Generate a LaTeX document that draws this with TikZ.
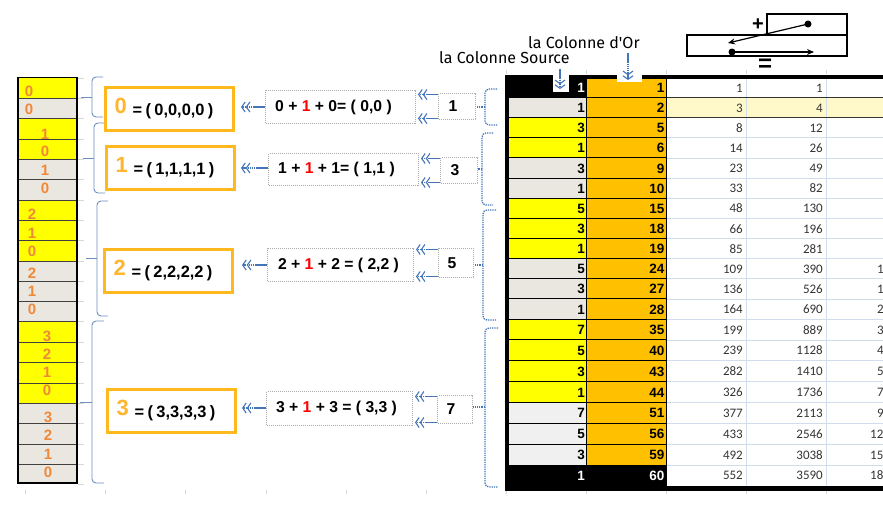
\documentclass[tikz,border=0pt]{standalone}
\usepackage{fontspec}
\setmainfont{Liberation Sans}
\newfontfamily\calib{Carlito}
\newfontfamily\comic{Fira Sans}
\usetikzlibrary{arrows.meta,calc}
\newcommand\pxfont[1]{\fontsize{#1}{#1}\selectfont}
\newcommand\padright[1]{\rule{#1}{0pt}}
\definecolor{orbox}{HTML}{FFB91E}
\definecolor{ordigit}{HTML}{FFB52E}
\definecolor{srcdigit}{HTML}{F0883A}
\definecolor{bluearr}{HTML}{4475B8}
\definecolor{bracel}{HTML}{6D8FC0}
\definecolor{yellowc}{HTML}{FFFF00}
\definecolor{greyc}{HTML}{E9E7DF}
\definecolor{greyd}{HTML}{F0F0F0}
\definecolor{goldc}{HTML}{FFC000}
\definecolor{paley}{HTML}{FFF9C9}
\definecolor{gridc}{HTML}{D3DCEA}
\definecolor{tickc}{HTML}{D8D8D8}
\tikzset{
  orangebox/.style={draw=orbox,line width=3pt,fill=white,inner sep=0pt,anchor=north west,minimum height=#1,text width=128pt,align=left},
  midbox/.style={draw=gray!65,densely dotted,line width=1pt,fill=white,inner sep=0pt,anchor=north west,font=\pxfont{15.7}\bfseries},
  numbox/.style={midbox},
  flowarrow/.style={draw=bluearr,line width=1.2pt,dash pattern=on 1.6pt off 0.5pt,-{Straight Barb[length=3.5pt,width=10pt,line width=1.1pt]Straight Barb[length=3.5pt,width=10pt,line width=1.1pt]}},
  leftbrace/.style={draw=bracel,line width=0.9pt,rounded corners=4pt},
  rightbrace/.style={draw=bluearr,line width=1.3pt,densely dotted,rounded corners=4pt},
  srclabel/.style={text=srcdigit,font=\pxfont{15}\bfseries,inner sep=0pt},
  goldnum/.style={font=\pxfont{13.5}\bfseries,inner sep=0pt,anchor=east},
  datanum/.style={font=\calib\pxfont{13},text=black!80,inner sep=0pt,anchor=east},
  cliplabel/.style={font=\calib\pxfont{13},text=black!80,inner sep=0pt,anchor=west},
  coltitle/.style={font=\comic\pxfont{16},inner sep=0pt,anchor=west},
  tick/.style={draw=tickc,line width=0.6pt},
  mini/.style={draw=black,line width=1.2pt},
  miniarrow/.style={draw=black,line width=1.2pt,-{Stealth[length=7pt,width=6pt]}}
}
\begin{document}
\begin{tikzpicture}[x=1pt,y=-1pt]
\useasboundingbox (0,0) rectangle (883,515);
% ---------- left column
\foreach \t/\b/\col in {77.5/98/yellowc,98/118/greyc,118/139/yellowc,139/159/yellowc,159/179/greyc,179/200/greyc,200/220/yellowc,220/240/yellowc,240/261/yellowc,261/281/greyc,281/301/greyc,301/321/greyc,321/342/yellowc,342/362/yellowc,362/383/yellowc,383/403/yellowc,403/423/greyc,423/444/greyc,444/464/greyc,464/483/greyc}
  \fill[\col] (18,\t) rectangle (77,\b);
\foreach \y in {98,118,139,159,179,200,220,240,261,281,301,321,342,362,383,403,423,444,464}
  \draw[black!75,line width=0.9pt] (18,\y) -- (77,\y);
\draw[black,line width=1.2pt] (18,77.5) rectangle (77,483);
\foreach \y in {78,98,118,139,159,179,200,220,240,261,281,301,321,342,362,383,403,423,444,464,484}
  \draw[tick] (78,\y) -- (84,\y);
\foreach \i/\x/\y/\v in {1/29/91/0,2/29/109/0,3/45/134/1,4/45/151/0,5/45/170/1,6/45/188/0,7/32/214/2,8/32/233/1,9/32/251/0,10/32/273/2,11/32/291/1,12/32/309/0,13/47/336/3,14/47/354/2,15/47/372/1,16/47/390/0,17/48/417/3,18/48/435/2,19/48/454/1,20/48/472/0}
  \node[srclabel] (src\i) at (\x,\y) {\v};
% ---------- ticks under the drawing
\foreach \x in {25,105,185,266,346,426,506,586,666,746,826}
  \draw[tick] (\x,490) -- (\x,494);
\foreach \x in {506,586,666,746,826}
  \draw[tick] (\x,70) -- (\x,74);
% ---------- left braces
\draw[leftbrace] (103,77) -- (92,77) -- (92,117) -- (103,117);
\draw[leftbrace,rounded corners=0pt] (92,97) -- (81,97);
\draw[leftbrace] (105,123) -- (94,123) -- (94,193) -- (105,193);
\draw[leftbrace,rounded corners=0pt] (94,158) -- (83,158);
\draw[leftbrace] (108,201) -- (97,201) -- (97,316) -- (108,316);
\draw[leftbrace,rounded corners=0pt] (97,258) -- (86,258);
\draw[leftbrace] (104,321) -- (92,321) -- (92,483) -- (104,483);
\draw[leftbrace,rounded corners=0pt] (92,402) -- (80,402);
% ---------- orange boxes
\node[orangebox=43pt] (ob0) at (104,86) {\hspace*{9pt}\raisebox{2pt}{\pxfont{22}\bfseries\color{ordigit}0}\hspace{6pt}{\pxfont{16.4}\bfseries = ( 0,0,0,0 )}};
\node[orangebox=43pt] (ob1) at (105,145) {\hspace*{9pt}\raisebox{2pt}{\pxfont{22}\bfseries\color{ordigit}1}\hspace{6pt}{\pxfont{16.4}\bfseries = ( 1,1,1,1 )}};
\node[orangebox=43pt] (ob2) at (103,248) {\hspace*{9pt}\raisebox{2pt}{\pxfont{22}\bfseries\color{ordigit}2}\hspace{6pt}{\pxfont{16.4}\bfseries = ( 2,2,2,2 )}};
\node[orangebox=43pt] (ob3) at (106,388) {\hspace*{9pt}\raisebox{2pt}{\pxfont{22}\bfseries\color{ordigit}3}\hspace{6pt}{\pxfont{16.4}\bfseries = ( 3,3,3,3 )}};
% ---------- middle boxes
\node[midbox,minimum width=150pt,minimum height=33pt] (mid0) at (265,90) {\raisebox{2pt}{0 + \textcolor{red}{1} + 0= ( 0,0 )}\padright{14pt}};
\node[midbox,minimum width=150pt,minimum height=32pt] (mid1) at (268,153) {\raisebox{2pt}{1 + \textcolor{red}{1} + 1= ( 1,1 )}\padright{14pt}};
\node[midbox,minimum width=146pt,minimum height=33pt] (mid2) at (267,248) {\raisebox{2pt}{2 + \textcolor{red}{1} + 2 = ( 2,2 )}\padright{4pt}};
\node[midbox,minimum width=146pt,minimum height=34pt] (mid3) at (266,391) {\raisebox{2pt}{3 + \textcolor{red}{1} + 3 = ( 3,3 )}\padright{6pt}};
% ---------- number boxes
\node[numbox,minimum width=37pt,minimum height=26pt] (num0) at (438,93) {1\padright{8pt}};
\node[numbox,minimum width=37pt,minimum height=26pt] (num1) at (440,157) {3\padright{8pt}};
\node[numbox,minimum width=35pt,minimum height=29pt] (num2) at (438,248) {5\padright{8pt}};
\node[numbox,minimum width=35pt,minimum height=28pt] (num3) at (437,395) {7\padright{8pt}};
% ---------- arrows
\foreach \n in {0,1,2,3}{
  \coordinate (upper\n) at ($(num\n.north west)+(0,1.5)$);
  \coordinate (lower\n) at ($(num\n.south west)+(0,-1.5)$);
  \draw[flowarrow] (upper\n) -- ([xshift=2pt]mid\n.east |- upper\n);
  \draw[flowarrow] (lower\n) -- ([xshift=2pt]mid\n.east |- lower\n);
}
\coordinate (in0) at (0,107);
\coordinate (in1) at (0,168);
\coordinate (in2) at (0,265);
\coordinate (in3) at (0,408);
\foreach \n/\g in {0/6,1/5,2/8,3/5}
  \draw[flowarrow] (mid\n.west |- in\n) -- ([xshift=\g pt]ob\n.east |- in\n);
% ---------- right braces
\draw[rightbrace] (497,89) -- (485,89) -- (485,125) -- (497,125);
\draw[rightbrace,rounded corners=0pt] (485,107) -- (num0.east |- 0,107);
\draw[rightbrace] (493,133) -- (482,133) -- (482,205) -- (493,205);
\draw[rightbrace,rounded corners=0pt] (482,169) -- (num1.east |- 0,169);
\draw[rightbrace] (496,210) -- (483,210) -- (483,320) -- (497,320);
\draw[rightbrace,rounded corners=0pt] (483,265) -- (num2.east |- 0,265);
\draw[rightbrace] (498,328) -- (485,328) -- (485,487) -- (498,487);
\draw[rightbrace,rounded corners=0pt] (485,407) -- (num3.east |- 0,407);
% ---------- table: cell colours
\foreach \t/\b/\col in {
 97.5/117.6/greyc,117.6/137.8/yellowc,137.8/157.9/yellowc,157.9/178.1/greyc,178.1/198.2/greyc,
 198.2/218.3/yellowc,218.3/238.5/yellowc,238.5/258.6/yellowc,258.6/278.8/greyc,278.8/298.9/greyc,298.9/319/greyc,
 319/339.9/yellowc,339.9/360.7/yellowc,360.7/381.6/yellowc,381.6/402.4/yellowc,
 402.4/423.3/greyd,423.3/444.2/greyd,444.2/465/greyd}{
  \fill[\col] (507,\t) rectangle (586,\b);
  \fill[goldc] (586,\t) rectangle (666,\b);
}
\fill[paley] (666,97.5) rectangle (883,117.6);
\fill[black] (505,75) rectangle (586,97.5);
\fill[goldc] (586,79) rectangle (666,97.5);
\fill[black] (505,465) rectangle (666,486);
% ---------- table: lines
\foreach \b in {117.6,137.8,157.9,178.1,198.2,218.3,238.5,258.6,278.8,298.9,319,339.9,360.7,381.6,402.4,423.3,444.2,465}{
  \draw[gridc,line width=0.8pt] (666,\b) -- (883,\b);
  \draw[black,line width=1pt] (507,\b) -- (666,\b);
}
\foreach \x in {746,826}
  \draw[gridc,line width=0.8pt] (\x,79) -- (\x,486);
\draw[black,line width=1pt] (507,97.5) -- (666,97.5);
\draw[black!80,line width=0.9pt] (666,97.5) -- (883,97.5) (666,117.6) -- (883,117.6);
\draw[black,line width=1pt] (586,97.5) -- (586,465);
\draw[black,line width=1pt] (586,79) -- (586,97.5);
\draw[black,line width=1pt] (666,79) -- (666,486);
\fill[black] (505,75) rectangle (883,79);
\fill[black] (505,486) rectangle (883,491);
\fill[black] (505,75) rectangle (509,491);
% ---------- table: numbers
\foreach \i/\y/\s/\g/\c/\d in {
 2/108/1/2/3/4,
 3/128/3/5/8/12,
 4/148/1/6/14/26,
 5/168.5/3/9/23/49,
 6/188.5/1/10/33/82,
 7/208.5/5/15/48/130,
 8/229/3/18/66/196,
 9/249/1/19/85/281,
 10/269/5/24/109/390,
 11/289/3/27/136/526,
 12/309.5/1/28/164/690,
 13/330/7/35/199/889,
 14/350.5/5/40/239/1128,
 15/371.5/3/43/282/1410,
 16/392.5/1/44/326/1736,
 17/413/7/51/377/2113,
 18/434/5/56/433/2546,
 19/455/3/59/492/3038}{
  \node[goldnum] (srcnum\i) at (585,\y) {\s};
  \node[goldnum] (gold\i) at (664.5,\y) {\g};
  \node[datanum] (dc\i) at (743,\y) {\c};
  \node[datanum] (dd\i) at (823,\y) {\d};
}
\node[goldnum,text=white] (srcnum1) at (585,88) {1};
\node[goldnum] (gold1) at (664.5,88) {1};
\node[datanum] (dc1) at (743,88) {1};
\node[datanum] (dd1) at (823,88) {1};
\node[goldnum,text=white] (srcnum20) at (585,475.5) {1};
\node[goldnum,text=white] (gold20) at (664.5,475.5) {60};
\node[datanum] (dc20) at (743,475.5) {552};
\node[datanum] (dd20) at (823,475.5) {3590};
% clipped fifth column
\foreach \i/\y/\x/\v in {10/269/877/1,11/289/877/1,12/309.5/877/2,13/330/877/3,14/350.5/877/4,15/371.5/877/5,16/392.5/877/7,17/413/877/9,18/434/870/12,19/455/870/15,20/475.5/870/18}
  \node[cliplabel] (de\i) at (\x,\y) {\v};
% ---------- notches and column titles
\fill[white] (553,75) rectangle (569,92);
\fill[white] (617,75) rectangle (642,82);
\coordinate (srcFrom) at (560,69);
\coordinate (srcTo) at (560,89);
\coordinate (goldFrom) at (628,53);
\coordinate (goldTo) at (628,80);
\draw[flowarrow] (srcFrom) -- (srcTo);
\draw[flowarrow] (goldFrom) -- (goldTo);
\node[coltitle] (titleGold) at (528,43) {la Colonne d'Or};
\node[coltitle] (titleSrc) at (439,58) {la Colonne Source};
% ---------- small scheme, top right
\draw[mini] (767,14) rectangle (847,35);
\draw[mini] (687,35) rectangle (847,56);
\coordinate (dotA) at (808,24);
\coordinate (tipA) at (728,43);
\coordinate (dotB) at (732,52);
\coordinate (tipB) at (814,52);
\fill (dotA) circle (3.5pt);
\fill (dotB) circle (3.5pt);
\draw[miniarrow] (dotA) -- (tipA);
\draw[miniarrow] (dotB) -- (tipB);
\node[inner sep=0pt,font=\pxfont{20}\bfseries] (plus) at (758,25) {+};
\node[inner sep=0pt,font=\pxfont{24}\bfseries] (equal) at (765,65) {=};
\end{tikzpicture}
\end{document}
